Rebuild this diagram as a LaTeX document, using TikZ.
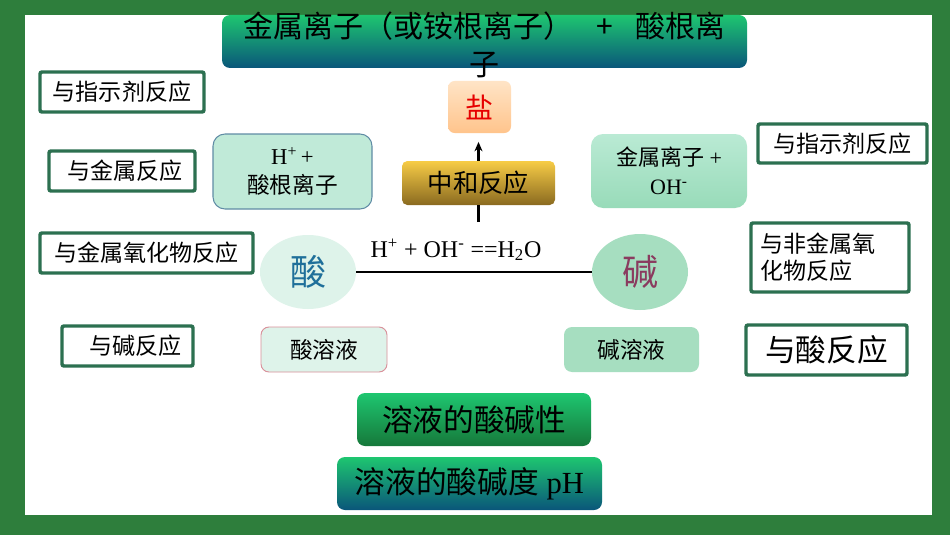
\documentclass[tikz,border=0pt]{standalone}
\usepackage{fontspec}
\setmainfont{Liberation Serif}
\newfontfamily\cjk{Noto Sans CJK SC}
\usetikzlibrary{arrows.meta,shapes.geometric}
\newcommand{\fsz}[2]{\fontsize{#1pt}{#2pt}\selectfont}
\definecolor{bggreen}{RGB}{46,126,60}
\definecolor{boxgreen}{RGB}{44,112,80}
\definecolor{bannertop}{RGB}{30,198,112}
\definecolor{bannerbot}{RGB}{10,86,122}
\definecolor{greentop}{RGB}{30,198,112}
\definecolor{greenbot}{RGB}{22,120,58}
\definecolor{goldtop}{RGB}{247,204,70}
\definecolor{goldbot}{RGB}{138,106,32}
\definecolor{yantop}{RGB}{255,228,198}
\definecolor{yanbot}{RGB}{255,196,140}
\definecolor{saltred}{RGB}{230,0,0}
\definecolor{hfill}{RGB}{192,234,216}
\definecolor{hborder}{RGB}{96,140,165}
\definecolor{ohtop}{RGB}{186,234,212}
\definecolor{ohbot}{RGB}{152,219,185}
\definecolor{suanfill}{RGB}{222,243,234}
\definecolor{jianfill}{RGB}{166,222,192}
\definecolor{suantext}{RGB}{31,111,154}
\definecolor{jiantext}{RGB}{138,59,95}
\definecolor{pinkborder}{RGB}{217,144,154}
\tikzset{
  area/.style n args={4}{inner sep=0pt, anchor=center,
    minimum width={(#3-#1)*0.75pt}, minimum height={(#4-#2)*0.75pt},
    at={({(#1+#3)/2},{(#2+#4)/2})}},
  outbox/.style={draw=boxgreen, line width=2.6pt, fill=white, rounded corners=1.5pt, font=\cjk\fsz{17.3}{20.25}},
  thickline/.style={line width=2.2pt, black},
}
\begin{document}
\begin{tikzpicture}[x=0.75pt,y=-0.75pt]
\useasboundingbox (0,0) rectangle (950,535);
\fill[bggreen] (0,0) rectangle (950,535);
\fill[white] (25,15) rectangle (932,515);

% left boxes
\node[outbox, area={40}{72}{204}{112}] (l1) {与指示剂反应};
\node[outbox, area={49}{151}{195}{191}] (l2) {\hspace*{4pt}与金属反应};
\node[outbox, area={40}{233}{253}{273}] (l3) {与金属氧化物反应};
\node[outbox, area={62}{326}{193}{366}] (l4) {\hspace*{12pt}与碱反应};

% right boxes
\node[outbox, area={758}{124}{927}{163}] (r1) {与指示剂反应};
\node[outbox, area={751}{223}{909}{292}, align=left, text width=105pt] (r2) {与非金属氧\\化物反应};
\node[outbox, area={746}{325}{907}{375}, font=\cjk\fsz{23}{27}] (r3) {与酸反应};

% banner
\node[area={222}{15}{747}{68}, rounded corners=6pt, top color=bannertop, bottom color=bannerbot] (banner) {};
\node[font=\cjk\fsz{22.5}{28.5}, align=center, inner sep=0pt] (bannertext) at ([yshift=-2.5pt]banner.center) {金属离子（或铵根离子）\hspace{17pt}+\hspace{17pt}酸根离\\子};

% salt
\node[area={448}{81}{511}{133}, rounded corners=5pt, top color=yantop, bottom color=yanbot, text=saltred, font=\cjk\fsz{21}{25}] (yan) {盐};

% ion boxes
\node[area={213}{134}{372}{209}, rounded corners=9pt, fill=hfill, draw=hborder, line width=0.8pt, align=center, font=\fsz{17}{21.75}] (hion) {H\textsuperscript{+}\,+\\{\cjk 酸根离子}};
\node[area={591}{134}{747}{208}, rounded corners=9pt, top color=ohtop, bottom color=ohbot, align=center, font=\fsz{16.5}{21.75}] (ohion) {{\cjk 金属离子} +\\OH\textsuperscript{-}};

% neutralisation
\node[area={402}{161}{555}{205}, rounded corners=4pt, top color=goldtop, bottom color=goldbot, font=\cjk\fsz{19}{23}] (zh) {中和反应};
\coordinate (stem) at (478.5,222);
\draw[thickline] (stem) -- (zh.south);
\draw[thickline, -{Stealth[length=7pt,width=6pt]}, shorten >=6.5pt] (zh.north) -- (zh.north |- yan.south);

% acid and base
\node[ellipse, area={260}{235}{356}{309}, fill=suanfill, text=suantext, font=\cjk\fsz{27}{30}] (suan) {酸};
\node[ellipse, area={592}{234}{688}{310}, fill=jianfill, text=jiantext, font=\cjk\fsz{27}{30}] (jian) {碱};
\draw[thickline] (suan) -- (jian);
\node[font=\fsz{18}{22}, inner sep=0pt] (eq) at (456,250) {H\textsuperscript{+} + OH\textsuperscript{-} ==H\textsubscript{2}O};

% solutions
\node[area={261}{327}{387}{372}, rounded corners=6pt, fill=suanfill, draw=pinkborder, line width=0.7pt, font=\cjk\fsz{17}{21}] (sry) {酸溶液};
\node[area={564}{327}{699}{372}, rounded corners=6pt, fill=jianfill, font=\cjk\fsz{17}{21}] (jry) {碱溶液};
\node[area={357}{393}{591}{446}, rounded corners=6pt, top color=greentop, bottom color=greenbot, font=\cjk\fsz{23}{27}] (xing) {溶液的酸碱性};
\node[area={337}{457}{602}{510}, rounded corners=6pt, top color=bannertop, bottom color=bannerbot, font=\fsz{23}{27}] (ph) {{\cjk 溶液的酸碱度} pH};
\end{tikzpicture}
\end{document}
